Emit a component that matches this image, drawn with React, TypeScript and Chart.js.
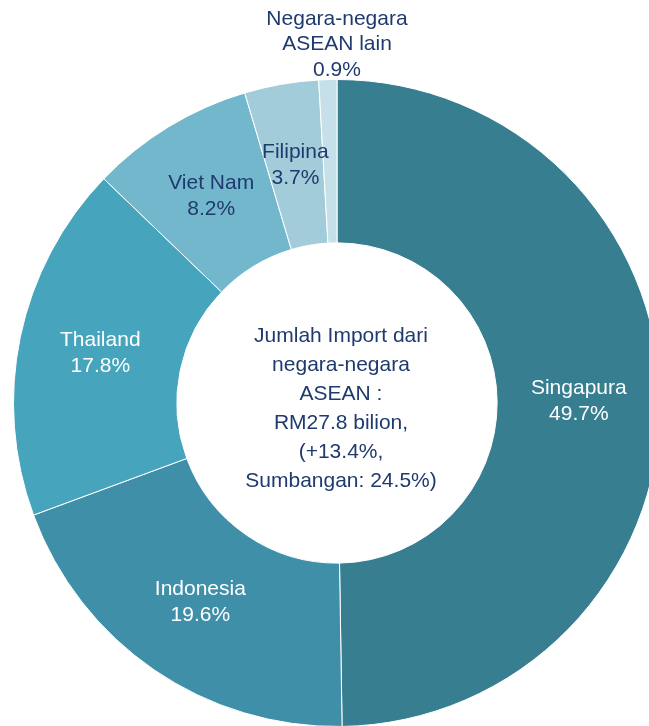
import React, { useEffect, useRef } from "react";
import { Chart, registerables } from "chart.js";

Chart.register(...registerables);

const countries = ["Singapura", "Indonesia", "Thailand", "Viet Nam", "Filipina", "Negara-negara\nASEAN lain"];
const shares = [49.7, 19.6, 17.8, 8.2, 3.7, 0.9];
const sliceColors = ["#367E90", "#3F8FA8", "#47A4BD", "#73B7CC", "#A3CCDB", "#C6E0E9"];
const labelColors = ["#FFFFFF", "#FFFFFF", "#FFFFFF", "#1F3A6E", "#1F3A6E", "#1F3A6E"];
const outsideLabel = [false, false, false, false, false, true];
const centerLines = [
  "Jumlah Import dari",
  "negara-negara",
  "ASEAN :",
  "RM27.8 bilion,",
  "(+13.4%,",
  "Sumbangan: 24.5%)",
];

const FONT = '21px "Liberation Sans", Arial, sans-serif';
const NAVY = "#1F3A6E";

const labelPlugin = {
  id: "sliceLabels",
  afterDatasetsDraw(chart: any) {
    const ctx = chart.ctx;
    const meta = chart.getDatasetMeta(0);
    ctx.save();
    ctx.font = FONT;
    ctx.textAlign = "center";
    ctx.textBaseline = "middle";
    meta.data.forEach((arc: any, i: number) => {
      const p = arc.getProps(["x", "y", "startAngle", "endAngle", "innerRadius", "outerRadius"], true);
      const mid = (p.startAngle + p.endAngle) / 2;
      const lines = [...countries[i].split("\n"), shares[i].toFixed(1) + "%"];
      ctx.fillStyle = labelColors[i];
      if (outsideLabel[i]) {
        const lh = 25.5;
        const bottom = p.y - p.outerRadius - 9.5;
        lines.forEach((t, k) => {
          ctx.fillText(t, p.x, bottom - (lines.length - 1 - k) * lh);
        });
      } else {
        const r = (p.innerRadius + p.outerRadius) / 2;
        const lx = p.x + Math.cos(mid) * r;
        const ly = p.y + Math.sin(mid) * r;
        const lh = 26;
        const top = ly - ((lines.length - 1) * lh) / 2;
        lines.forEach((t, k) => ctx.fillText(t, lx, top + k * lh));
      }
    });
    // centre text
    const c = meta.data[0];
    const cx = c.x + 4;
    const cy = c.y + 5.5;
    const lh = 29;
    ctx.fillStyle = NAVY;
    const top = cy - ((centerLines.length - 1) * lh) / 2;
    centerLines.forEach((t, k) => ctx.fillText(t, cx, top + k * lh));
    ctx.restore();
  },
};

export default function App() {
  const ref = useRef<HTMLCanvasElement | null>(null);
  useEffect(() => {
    if (!ref.current) return;
    const chart = new Chart(ref.current, {
      type: "doughnut",
      data: {
        labels: countries.map((c) => c.replace("\n", " ")),
        datasets: [
          {
            data: shares,
            backgroundColor: sliceColors,
            borderColor: "#FFFFFF",
            borderWidth: 1,
            hoverOffset: 0,
          },
        ],
      },
      options: {
        responsive: false,
        animation: false,
        devicePixelRatio: 1,
        cutout: "49.5%",
        layout: { padding: { left: 13, top: 79, right: 39, bottom: 33 } },
        plugins: {
          legend: { display: false },
          tooltip: { enabled: false },
        },
        events: [],
      },
      plugins: [labelPlugin],
    });
    return () => chart.destroy();
  }, []);
  return (
    <div
      style={{
        position: "fixed",
        left: 0,
        top: 0,
        width: 649,
        height: 726,
        overflow: "hidden",
        background: "#FFFFFF",
      }}
    >
      <canvas
        ref={ref}
        width={700}
        height={760}
        style={{ position: "absolute", left: 0, top: 0, width: 700, height: 760 }}
      />
    </div>
  );
}
